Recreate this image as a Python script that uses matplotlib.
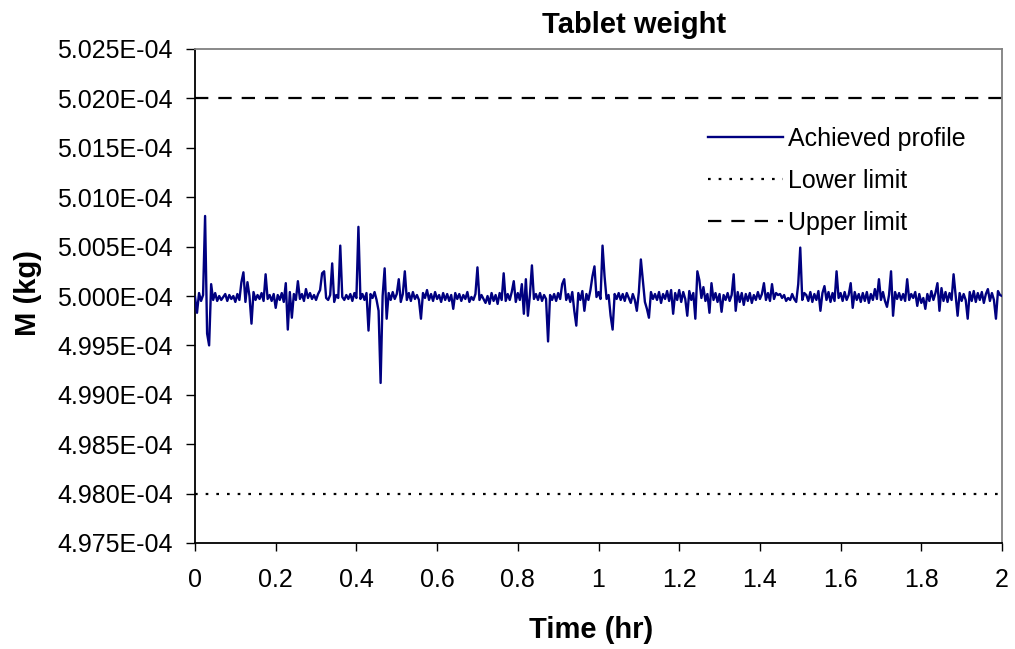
import numpy as np
import matplotlib
matplotlib.use("Agg")
import matplotlib.pyplot as plt
from matplotlib.ticker import FixedLocator, FuncFormatter

plt.rcParams["font.family"] = ["Liberation Sans", "DejaVu Sans"]

# Tablet weight over the 2 h run, in units of 1E-04 kg
mass_e4 = [
    4.9999, 4.9983, 5.0003, 4.9995, 5.0001, 5.0081, 4.9962, 4.9950, 5.0012, 4.9996,
    5.0003, 4.9995, 5.0000, 4.9996, 4.9999, 5.0002, 4.9995, 5.0001, 4.9997, 5.0000,
    4.9994, 5.0002, 4.9996, 5.0014, 5.0024, 4.9994, 5.0014, 5.0000, 4.9972, 5.0004,
    4.9996, 5.0001, 4.9997, 5.0003, 4.9995, 5.0022, 4.9997, 5.0001, 4.9995, 5.0002,
    4.9988, 5.0001, 4.9996, 5.0003, 4.9994, 5.0013, 4.9966, 5.0004, 4.9978, 5.0002,
    4.9996, 5.0015, 4.9997, 5.0002, 4.9995, 5.0007, 4.9998, 5.0003, 4.9997, 5.0001,
    4.9996, 5.0002, 5.0006, 5.0023, 5.0025, 4.9998, 4.9996, 5.0001, 5.0033, 4.9994,
    5.0001, 4.9998, 5.0051, 4.9999, 4.9996, 5.0001, 4.9997, 5.0002, 4.9995, 5.0003,
    4.9998, 5.0070, 4.9997, 5.0002, 4.9996, 5.0003, 4.9965, 5.0002, 4.9998, 5.0004,
    4.9996, 4.9985, 4.9912, 5.0000, 5.0028, 4.9977, 5.0003, 4.9996, 5.0004, 4.9997,
    5.0002, 5.0017, 4.9994, 5.0002, 5.0025, 4.9996, 5.0003, 4.9995, 5.0004, 4.9997,
    5.0001, 4.9996, 4.9977, 5.0003, 4.9998, 5.0006, 4.9996, 5.0002, 4.9995, 5.0004,
    4.9997, 5.0001, 4.9994, 5.0003, 4.9996, 5.0002, 4.9995, 5.0001, 4.9987, 5.0003,
    4.9997, 5.0002, 4.9995, 5.0001, 4.9997, 5.0004, 4.9994, 4.9999, 4.9996, 5.0002,
    5.0029, 4.9996, 5.0001, 4.9997, 4.9993, 5.0000, 4.9992, 5.0003, 4.9995, 5.0001,
    4.9992, 5.0003, 4.9996, 5.0023, 4.9995, 5.0002, 4.9996, 5.0004, 5.0015, 4.9994,
    5.0003, 4.9996, 5.0012, 4.9982, 5.0017, 4.9980, 5.0001, 5.0031, 4.9997, 5.0002,
    4.9996, 5.0003, 4.9995, 5.0001, 4.9997, 4.9954, 5.0001, 4.9996, 5.0002, 4.9995,
    5.0003, 4.9997, 5.0012, 5.0017, 4.9996, 5.0002, 4.9994, 5.0004, 4.9985, 4.9970,
    5.0003, 4.9996, 5.0005, 4.9985, 5.0002, 4.9996, 5.0006, 5.0020, 5.0030, 4.9999,
    5.0004, 4.9997, 5.0051, 5.0020, 4.9997, 5.0001, 4.9980, 4.9966, 5.0002, 4.9997,
    5.0003, 4.9996, 5.0002, 4.9995, 5.0003, 4.9998, 4.9993, 5.0002, 4.9996, 4.9985,
    5.0004, 5.0037, 5.0015, 4.9994, 4.9987, 4.9978, 5.0004, 4.9997, 5.0002, 4.9996,
    5.0004, 4.9993, 5.0002, 4.9997, 5.0005, 4.9995, 5.0006, 4.9982, 5.0003, 4.9996,
    5.0006, 4.9994, 5.0004, 4.9997, 4.9980, 5.0005, 4.9996, 5.0003, 4.9977, 5.0025,
    5.0016, 4.9998, 5.0009, 4.9995, 5.0002, 4.9983, 5.0013, 4.9996, 5.0003, 4.9994,
    5.0002, 4.9984, 5.0001, 4.9996, 5.0003, 4.9995, 5.0001, 5.0022, 4.9985, 5.0004,
    4.9994, 5.0003, 4.9991, 5.0002, 4.9995, 5.0003, 4.9993, 5.0001, 4.9996, 5.0004,
    4.9997, 5.0002, 5.0013, 4.9996, 5.0003, 4.9995, 5.0012, 4.9997, 5.0003, 5.0001,
    5.0002, 4.9998, 5.0001, 4.9995, 4.9998, 4.9996, 5.0002, 4.9997, 4.9994, 5.0012,
    5.0049, 4.9996, 5.0003, 5.0001, 4.9995, 5.0004, 4.9994, 5.0002, 4.9996, 5.0005,
    4.9985, 5.0003, 5.0010, 4.9996, 5.0004, 4.9994, 5.0003, 4.9995, 5.0025, 4.9998,
    5.0003, 4.9995, 5.0004, 4.9996, 5.0001, 5.0013, 4.9988, 5.0004, 4.9996, 5.0002,
    4.9994, 5.0003, 4.9995, 5.0004, 4.9993, 5.0002, 4.9996, 5.0007, 4.9997, 5.0017,
    4.9996, 5.0004, 4.9995, 4.9989, 5.0001, 5.0025, 4.9980, 5.0004, 4.9997, 5.0003,
    4.9996, 5.0002, 4.9995, 5.0017, 4.9996, 5.0002, 4.9998, 5.0004, 4.9990, 5.0002,
    4.9993, 4.9998, 4.9987, 5.0002, 4.9995, 5.0005, 4.9996, 5.0003, 5.0013, 4.9985,
    5.0008, 4.9995, 5.0004, 4.9994, 5.0003, 4.9996, 5.0022, 5.0001, 4.9980, 5.0003,
    4.9995, 5.0002, 4.9996, 4.9977, 5.0004, 4.9995, 5.0005, 4.9994, 5.0003, 4.9996,
    5.0004, 4.9993, 5.0002, 5.0007, 4.9995, 5.0003, 4.9996, 4.9977, 5.0005, 5.0001,
    5.0000,
]
t_start, t_end = 0.0, 2.0          # hr
lower_limit = 4.980e-4              # kg
upper_limit = 5.020e-4              # kg

y_ticks = [4.975e-4, 4.980e-4, 4.985e-4, 4.990e-4, 4.995e-4, 5.000e-4,
           5.005e-4, 5.010e-4, 5.015e-4, 5.020e-4, 5.025e-4]
x_ticks = [0, 0.2, 0.4, 0.6, 0.8, 1.0, 1.2, 1.4, 1.6, 1.8, 2.0]
x_tick_labels = ["0", "0.2", "0.4", "0.6", "0.8", "1", "1.2", "1.4", "1.6", "1.8", "2"]

mass = np.array(mass_e4) * 1e-4
time_hr = np.linspace(t_start, t_end, len(mass))

W, H = 1015, 649
fig = plt.figure(figsize=(W / 100, H / 100), dpi=100)
ax = fig.add_axes([195 / W, 1 - 543 / H, (1002 - 195) / W, (543 - 49) / H])

navy = "#000080"
ax.plot(time_hr, mass, color=navy, lw=1.7, label="Achieved profile", zorder=3)
ax.plot([t_start, t_end], [lower_limit, lower_limit], color="black", lw=1.6,
        linestyle=(0, (1.2, 3.6)), dash_capstyle="butt", label="Lower limit")
ax.plot([t_start, t_end], [upper_limit, upper_limit], color="black", lw=1.6,
        linestyle=(0, (6.0, 4.5)), label="Upper limit")

ax.set_xlim(t_start, t_end)
ax.set_ylim(y_ticks[0], y_ticks[-1])
ax.xaxis.set_major_locator(FixedLocator(x_ticks))
ax.set_xticklabels(x_tick_labels)
ax.yaxis.set_major_locator(FixedLocator(y_ticks))
ax.yaxis.set_major_formatter(FuncFormatter(lambda v, p: f"{v:.3E}"))

for side in ("left", "bottom"):
    ax.spines[side].set_color("black")
    ax.spines[side].set_linewidth(1.3)
for side in ("top", "right"):
    ax.spines[side].set_color("#808080")
    ax.spines[side].set_linewidth(1.3)

ax.tick_params(axis="y", direction="out", length=6.5, width=1.0, pad=9.5,
               labelsize=18, colors="black")
ax.tick_params(axis="x", direction="out", length=6, width=1.0, pad=12,
               labelsize=18, colors="black")

fig.text(634 / W, 1 - 33 / H, "Tablet weight", ha="center", va="baseline",
         fontsize=21, fontweight="bold")
fig.text(591 / W, 1 - 638 / H, "Time (hr)", ha="center", va="baseline",
         fontsize=21, fontweight="bold")
fig.text(27.5 / W, 1 - 293.5 / H, "M (kg)", ha="center", va="center",
         rotation=90, fontsize=21, fontweight="bold")

leg = ax.legend(loc="upper left", bbox_to_anchor=((708 - 195) / 807, (543 - 127) / 494),
                frameon=False, fontsize=18, handlelength=3.0, handletextpad=0.2,
                labelspacing=0.72, borderpad=0, borderaxespad=0)

fig.savefig("out.png", dpi=100)
